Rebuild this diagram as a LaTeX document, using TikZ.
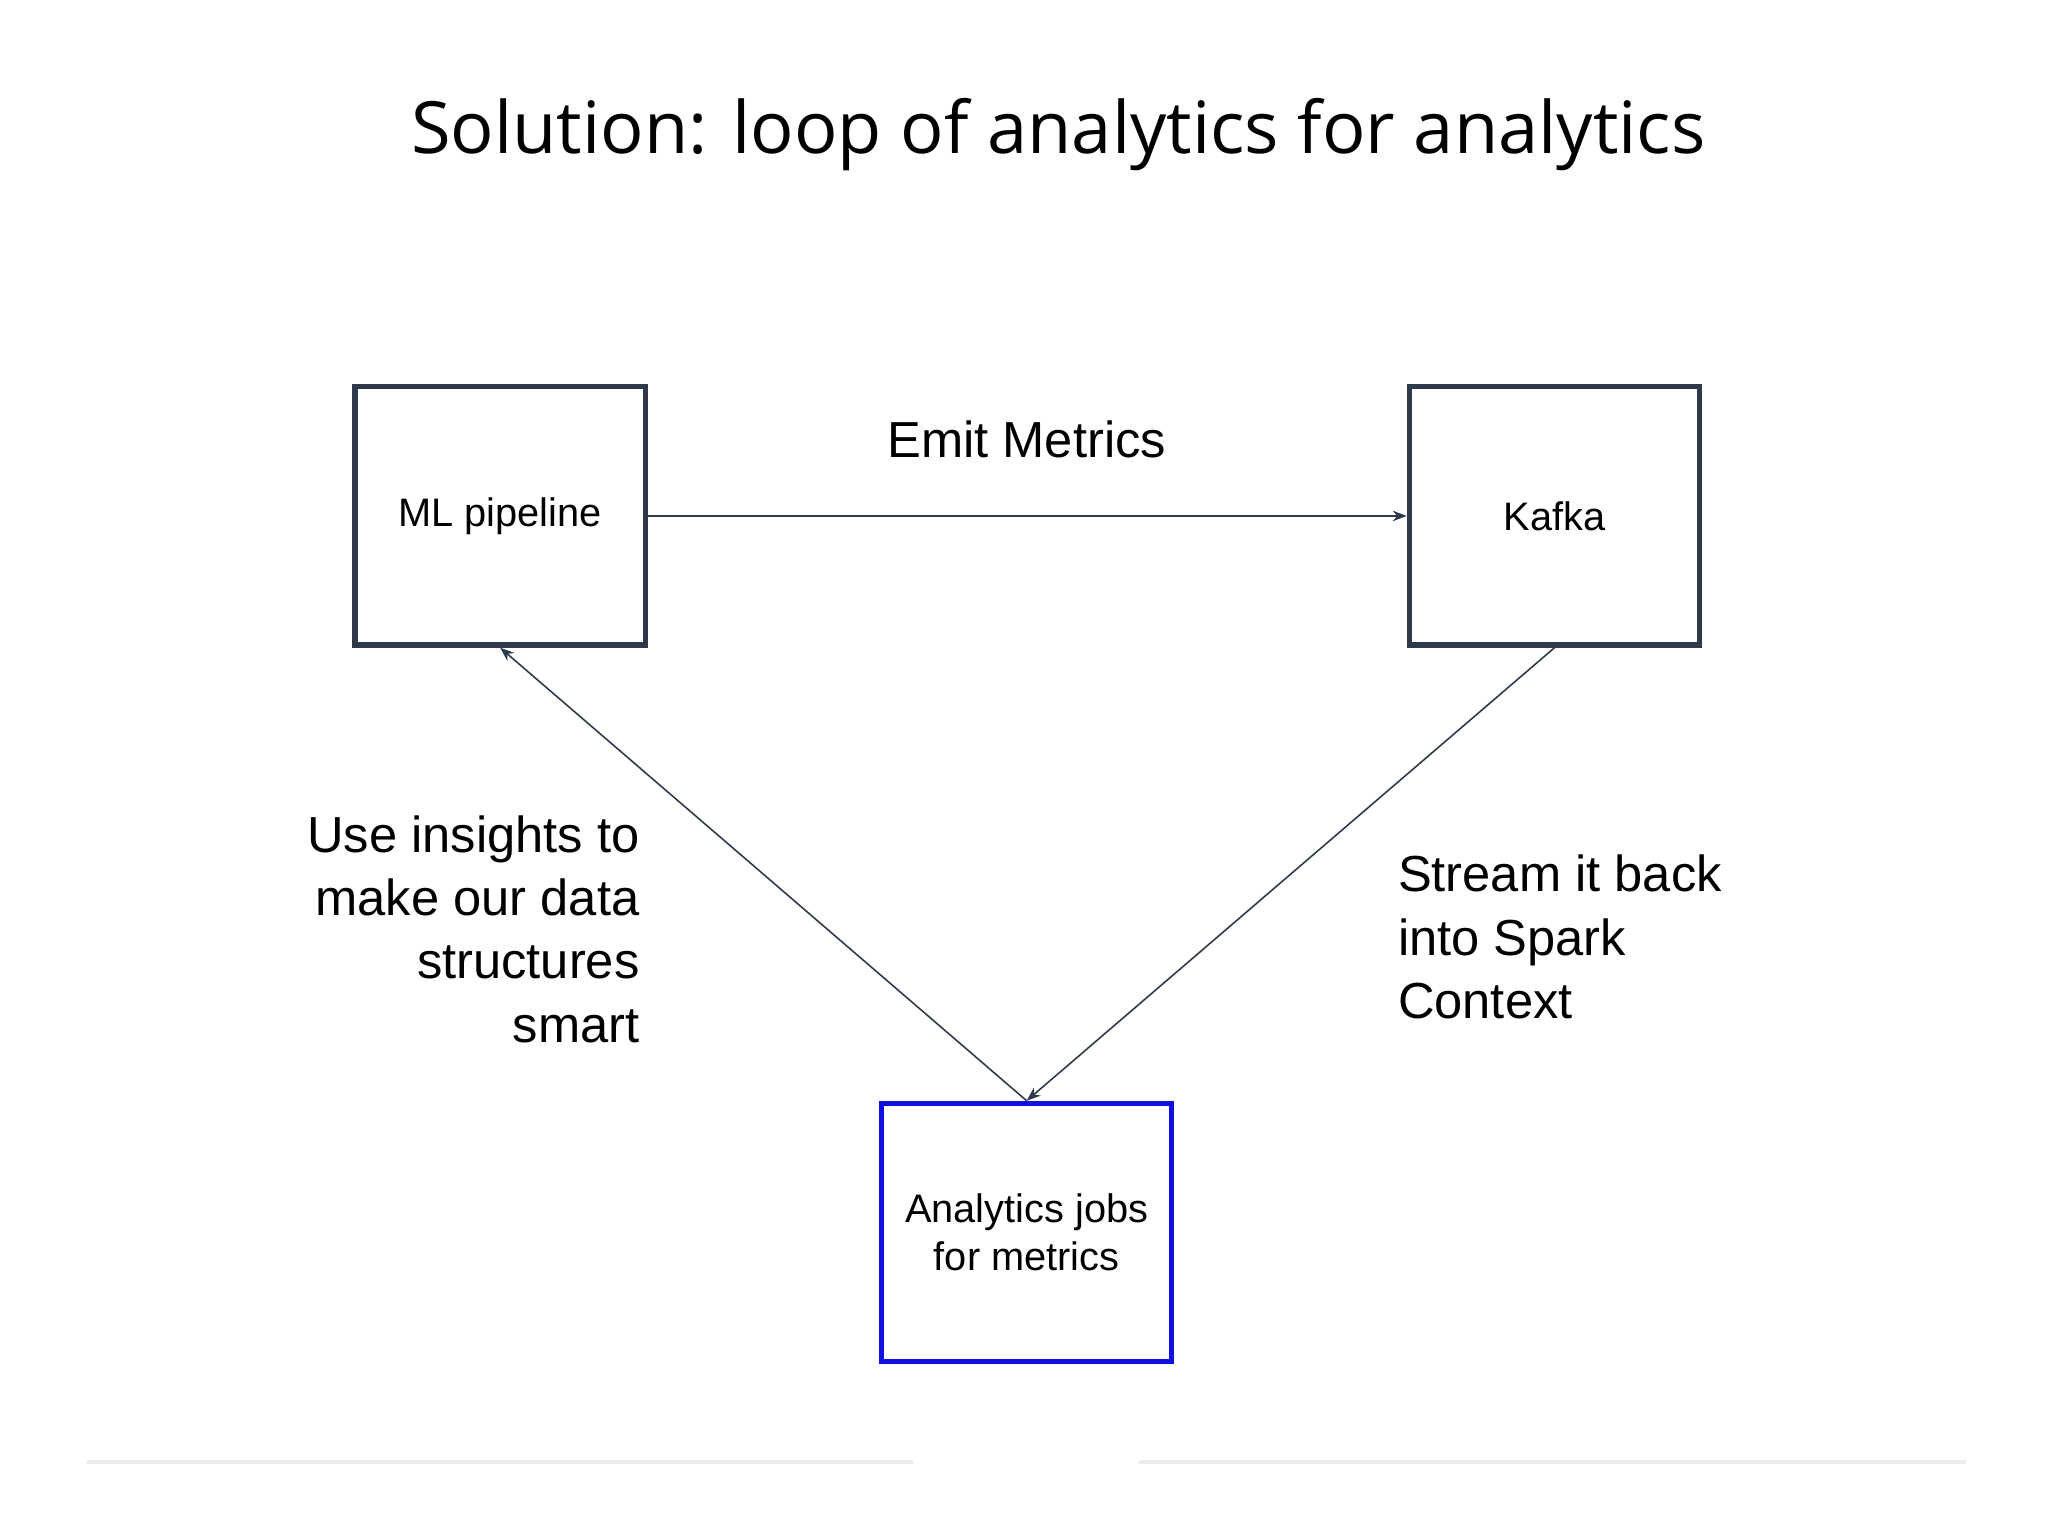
\documentclass[tikz,border=0pt]{standalone}
\usepackage{fontspec}
\setmainfont{Liberation Sans}
\newfontfamily\titlefont{Open Sans}
\usetikzlibrary{positioning,arrows.meta}
\definecolor{boxline}{HTML}{2E3A4A}
\definecolor{jobline}{HTML}{1010E0}
\begin{document}
\begin{tikzpicture}[
  x=0.01319cm, y=-0.01319cm,
  box/.style={draw=boxline, line width=1.5pt, align=center, minimum width=2.9cm, minimum height=2.58cm, font=\fontsize{11.3}{13.5}\selectfont},
  job/.style={box, draw=jobline},
  lbl/.style={font=\fontsize{14.4}{18}\selectfont},
  arr/.style={-{Stealth[length=4pt,width=3pt]}, draw=boxline, line width=0.45pt}
]
\useasboundingbox (0,0) rectangle (1552,1164);

% Titel
\node[font=\titlefont\fontsize{20.5}{24}\selectfont] (title) at (802,102) {Solution: loop of analytics for analytics};

% Knoten
\node[box] (ml) at (379,391) {ML pipeline};
\node[box] (kafka) at (1178,391) {Kafka};
\node[job] (jobs) at (778,934) {Analytics jobs\\for metrics};

% Beschriftungen
\node[lbl] (emit) at (778,333) {Emit Metrics};
\node[lbl, align=right, anchor=east] (use) at (494,704) {Use insights to\\make our data\\structures\\smart};
\node[lbl, align=left, anchor=west] (stream) at (1050,710) {Stream it back\\into Spark\\Context};

% Pfeile
\draw[arr] (ml.east) -- (kafka.west);
\draw[arr] (kafka.south) -- (jobs.north);
\draw[arr] (jobs.north) -- (ml.south);

% Trennlinien
\coordinate (l1) at (66,1108); \coordinate (l2) at (692,1108);
\coordinate (r1) at (863,1108); \coordinate (r2) at (1490,1108);
\draw[gray!15, line width=1pt] (l1) -- (l2);
\draw[gray!15, line width=1pt] (r1) -- (r2);
\end{tikzpicture}
\end{document}
